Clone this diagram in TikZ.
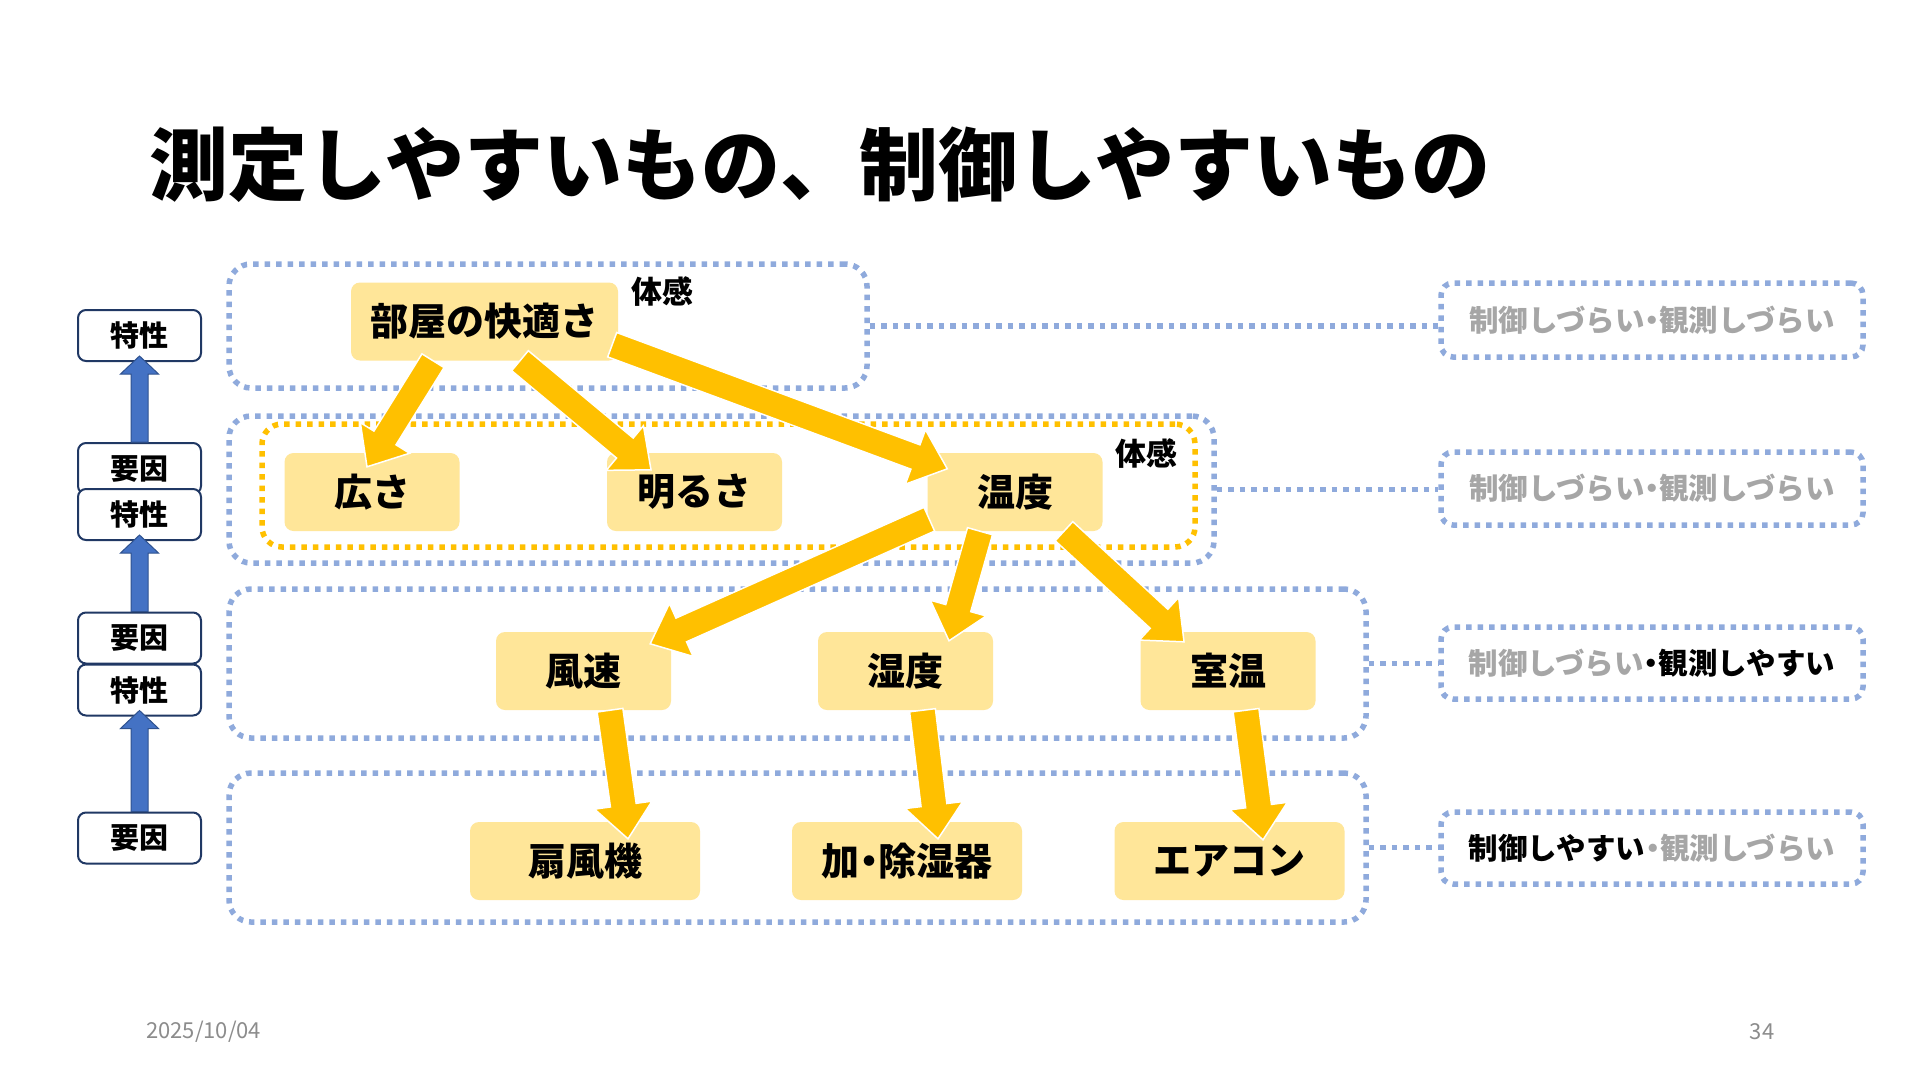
\documentclass[tikz,border=0pt]{standalone}
\usepackage{fontspec}
\setmainfont{Noto Sans CJK JP}
\usetikzlibrary{calc}
\definecolor{nodeyel}{HTML}{FFE699}
\definecolor{arrowyel}{HTML}{FFC000}
\definecolor{dotblue}{HTML}{8FAADC}
\definecolor{ablue}{HTML}{4472C4}
\definecolor{ablueD}{HTML}{2F528F}
\definecolor{navy}{HTML}{203864}
\definecolor{lgray}{HTML}{A6A6A6}
\definecolor{fgray}{HTML}{8C8C8C}
\newcommand\blockarrow[6]{%
  \coordinate (ba-s) at (#2);
  \coordinate (ba-t) at (#3);
  \coordinate (ba-b) at ($(ba-t)!#6pt!(ba-s)$);
  \path[#1] ($(ba-s)!#4pt!90:(ba-t)$) -- ($(ba-b)!#4pt!-90:(ba-s)$) -- ($(ba-b)!#5pt!-90:(ba-s)$) -- (ba-t) -- ($(ba-b)!#5pt!90:(ba-s)$) -- ($(ba-b)!#4pt!90:(ba-s)$) -- ($(ba-s)!#4pt!-90:(ba-t)$) -- cycle;
}
\newcommand\nakaten{\hspace{-0.25em}・\hspace{-0.25em}}
\tikzset{
  dotline/.style={line width=5.5pt, dash pattern=on 5.5pt off 6pt},
  bgroup/.style={draw=dotblue, dotline, rounded corners=22pt, inner sep=0pt},
  ogroup/.style={draw=arrowyel, dotline, rounded corners=20pt, inner sep=0pt},
  bdot/.style={draw=dotblue, dotline},
  lab/.style={draw=dotblue, dotline, rounded corners=12pt, inner sep=0pt, minimum width=422pt, font=\fontsize{29.5}{31}\selectfont\bfseries},
  ynode/.style={fill=nodeyel, rounded corners=9pt, minimum height=78pt, inner sep=0pt, font=\fontsize{38}{42}\selectfont\bfseries},
  lbox/.style={draw=navy, line width=2pt, fill=white, rounded corners=8pt, minimum width=123pt, minimum height=51pt, inner sep=0pt, font=\fontsize{29}{31}\selectfont\bfseries},
  yarrow/.style={fill=arrowyel, draw=white, line width=1.5pt, line join=miter},
  barrow/.style={fill=ablue, draw=ablueD, line width=1pt, line join=miter},
  tkan/.style={font=\fontsize{31}{33}\selectfont\bfseries, inner sep=0pt},
}
\begin{document}
\begin{tikzpicture}[x=1pt, y=-1pt]
\useasboundingbox (0,0) rectangle (1920,1080);
\fill[white] (0,0) rectangle (1920,1080);

% title
\node[anchor=west, inner sep=0pt, font=\fontsize{79}{90}\selectfont\bfseries] (title) at (149,165) {測定しやすいもの、制御しやすいもの};

% groups
\node[bgroup, minimum width=638pt, minimum height=124pt] (g1) at (548,326) {};
\node[bgroup, minimum width=985pt, minimum height=147pt] (g2) at (721.5,489.5) {};
\node[ogroup, minimum width=933pt, minimum height=123pt] (og) at (728.5,485.5) {};
\node[bgroup, minimum width=1137pt, minimum height=149pt] (g3) at (797.5,663.5) {};
\node[bgroup, minimum width=1137pt, minimum height=149pt] (g4) at (797.5,847.5) {};

% right labels
\node[lab, minimum height=74pt] (la) at (1652,320) {\color{lgray}制御しづらい\nakaten 観測しづらい};
\node[lab, minimum height=73pt] (lb) at (1652,488.5) {\color{lgray}制御しづらい\nakaten 観測しづらい};
\node[lab, minimum height=72pt] (lc) at (1652,663) {{\color{lgray}制御しづらい}\nakaten 観測しやすい};
\node[lab, minimum height=72pt] (ld) at (1652,848) {制御しやすい{\color{lgray}\nakaten 観測しづらい}};

\draw[bdot] (g1.east) -- (g1.east -| la.west);
\draw[bdot] (g2.east) -- (g2.east -| lb.west);
\draw[bdot] (g3.east) -- (g3.east -| lc.west);
\draw[bdot] (g4.east) -- (g4.east -| ld.west);

% yellow nodes
\node[ynode, minimum width=267pt] (room) at (484.5,321.5) {部屋の快適さ};
\node[ynode, minimum width=175pt] (hiro) at (372,492) {広さ};
\node[ynode, minimum width=175pt] (akaru) at (694.5,492) {明るさ};
\node[ynode, minimum width=175pt] (ondo) at (1015,492) {温度};
\node[ynode, minimum width=175pt] (fuso) at (583.5,671) {風速};
\node[ynode, minimum width=175pt] (shitsu) at (905.5,671) {湿度};
\node[ynode, minimum width=175pt] (shon) at (1228,671) {室温};
\node[ynode, minimum width=230pt] (senp) at (585,861) {扇風機};
\node[ynode, minimum width=230pt] (kajo) at (907,861) {加\nakaten 除湿器};
\node[ynode, minimum width=230pt] (airc) at (1229.5,861) {エアコン};

\node[tkan] (tk1) at (662,292) {体感};
\node[tkan] (tk2) at (1146,454) {体感};

% yellow arrows
\blockarrow{yarrow}{$(room.south)+(-51.5,0)$}{$(hiro.north)+(-5,14)$}{13}{29}{34}
\blockarrow{yarrow}{$(room.south)+(35.5,0)$}{$(akaru.north)+(-43.5,17)$}{13}{29}{34}
\blockarrow{yarrow}{$(room.south east)+(-6,-16)$}{$(ondo.north west)+(20,16)$}{13}{29}{34}
\blockarrow{yarrow}{$(ondo.south west)+(2,-12)$}{$(fuso.north east)+(-21,12)$}{13}{29}{34}
\blockarrow{yarrow}{$(ondo.south)+(-35,0)$}{$(shitsu.north)+(43.5,9)$}{13}{29}{34}
\blockarrow{yarrow}{$(ondo.south)+(49,0)$}{$(shon.north)+(-44,10)$}{13}{29}{34}
\blockarrow{yarrow}{$(fuso.south)+(26.5,0)$}{$(senp.north)+(43,17)$}{13}{29}{34}
\blockarrow{yarrow}{$(shitsu.south)+(17,0)$}{$(kajo.north)+(31,17)$}{13}{29}{34}
\blockarrow{yarrow}{$(shon.south)+(18,0)$}{$(airc.north)+(33.5,18)$}{13}{29}{34}

% left column
\node[lbox] (k1) at (139.5,335.5) {特性};
\node[lbox] (y1) at (139.5,468.5) {要因};
\node[lbox] (k2) at (139.5,514.5) {特性};
\node[lbox] (y2) at (139.5,638) {要因};
\node[lbox] (k3) at (139.5,690) {特性};
\node[lbox] (y3) at (139.5,838) {要因};

\blockarrow{barrow}{y1.north}{$(k1.south)+(0,-6)$}{8.5}{19}{18}
\blockarrow{barrow}{y2.north}{$(k2.south)+(0,-6)$}{8.5}{19}{18}
\blockarrow{barrow}{y3.north}{$(k3.south)+(0,-6)$}{8.5}{19}{18}

% footer
\node[anchor=west, inner sep=0pt, text=fgray, font=\fontsize{22}{24}\selectfont] (date) at (146,1032) {2025/10/04};
\node[inner sep=0pt, text=fgray, font=\fontsize{22}{24}\selectfont] (pg) at (1762,1032) {34};
\end{tikzpicture}
\end{document}
